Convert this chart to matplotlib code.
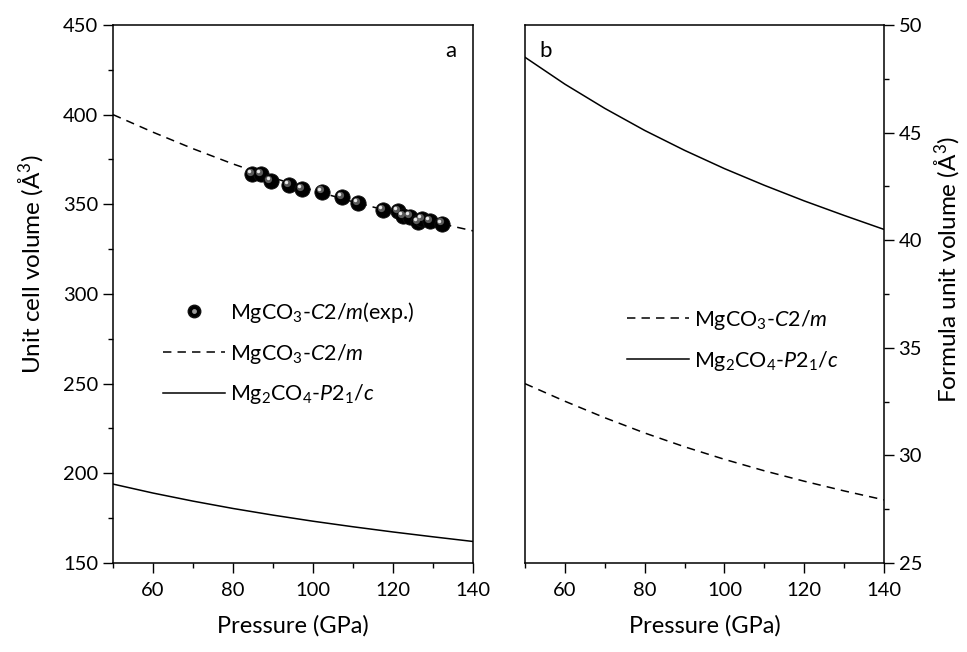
import numpy as np
import matplotlib.pyplot as plt
from matplotlib.transforms import ScaledTranslation
from matplotlib.ticker import MultipleLocator

plt.rcParams['font.family'] = ['Lato', 'DejaVu Sans']
plt.rcParams['mathtext.fontset'] = 'custom'
plt.rcParams['mathtext.rm'] = 'Lato'
plt.rcParams['mathtext.it'] = 'Lato:italic'
plt.rcParams['font.size'] = 14

# Calculated equations of state (GPa, unit cell volume in A^3)
pressure = [50, 60, 70, 80, 90, 100, 110, 120, 130, 140]
v_mgco3 = [400, 390.2, 381.0, 372.5, 364.8, 357.8, 351.4, 345.6, 340.2, 335.2]
v_mg2co4 = [194, 189, 184.5, 180.4, 176.7, 173.3, 170.2, 167.3, 164.6, 162.0]

# Experimental MgCO3-C2/m data
p_exp = [84.7, 87.0, 89.4, 94.0, 97.2, 102.2, 107.2, 111.3, 117.6, 121.3,
         122.6, 124.2, 126.3, 127.2, 129.2, 132.2]
v_exp = [366.9, 366.9, 363.0, 360.6, 358.6, 357.1, 354.1, 350.7, 346.6, 346.0,
         343.6, 343.2, 339.9, 341.8, 340.5, 339.2]

# formula units per cell
z_mgco3 = 12
z_mg2co4 = 4

lbl_exp = r'MgCO$_3$-$C2/m$(exp.)'
lbl_mgco3 = r'MgCO$_3$-$C2/m$'
lbl_mg2co4 = r'Mg$_2$CO$_4$-$P2_1/c$'
dash = (5.5, 4)

fig = plt.figure(figsize=(9.67, 6.52), dpi=100)
ax1 = fig.add_axes([0.1169, 0.1365, 0.3723, 0.8252])
ax2 = fig.add_axes([0.5429, 0.1365, 0.3713, 0.8252])

for ax in (ax1, ax2):
    for s in ax.spines.values():
        s.set_linewidth(1.1)
    ax.set_xlim(50, 140)
    ax.xaxis.set_major_locator(MultipleLocator(20))
    ax.xaxis.set_minor_locator(MultipleLocator(10))
    ax.tick_params(which='major', direction='out', length=7, width=1, labelsize=14.5)
    ax.tick_params(which='minor', direction='out', length=3.5, width=1)
    ax.tick_params(axis='x', pad=7)
    ax.set_xlabel('Pressure (GPa)', fontsize=17, labelpad=11)

# panel a
ax1.plot(pressure, v_mgco3, 'k--', lw=1.1, dashes=dash, label=lbl_mgco3)
ax1.plot(pressure, v_mg2co4, 'k-', lw=1.1, label=lbl_mg2co4)

# shaded spheres for experimental points
off1 = ScaledTranslation(-1.6 / 72, 1.6 / 72, fig.dpi_scale_trans)
off2 = ScaledTranslation(-2.2 / 72, 2.2 / 72, fig.dpi_scale_trans)
ax1.plot(p_exp, v_exp, 'o', ms=11, mfc='black', mec='#111111', mew=0.6, zorder=3)
ax1.plot(p_exp, v_exp, 'o', ms=5.2, mfc='#707070', mec='none', alpha=0.8,
         transform=ax1.transData + off1, zorder=4)
ax1.plot(p_exp, v_exp, 'o', ms=2.5, mfc='#e8e8e8', mec='none',
         transform=ax1.transData + off2, zorder=5)

ax1.set_ylim(150, 450)
ax1.yaxis.set_major_locator(MultipleLocator(50))
ax1.yaxis.set_minor_locator(MultipleLocator(25))
ax1.set_ylabel('Unit cell volume ($\\mathregular{\\AA^3}$)', fontsize=17.5)
ax1.yaxis.set_label_coords(-0.19, 0.555)
ax1.text(0.955, 0.97, 'a', transform=ax1.transAxes, ha='right', va='top', fontsize=16)

# legend for panel a, with a sphere handle
h_sph = (plt.Line2D([], [], marker='o', ls='none', ms=9, mfc='black', mec='#111111'),
         plt.Line2D([], [], marker='o', ls='none', ms=3.5, mfc='#9a9a9a', mec='none'))
hd, lb = ax1.get_legend_handles_labels()
ax1.legend([h_sph] + hd, [lbl_exp] + lb, frameon=False, loc='upper left',
           bbox_to_anchor=(0.085, 0.525), fontsize=15.5, handlelength=2.9,
           handletextpad=0.2, labelspacing=0.78)

# panel b
v_b1 = np.array(v_mgco3) / z_mgco3
v_b2 = np.array(v_mg2co4) / z_mg2co4
ax2.plot(pressure, v_b1, 'k--', lw=1.1, dashes=dash, label=lbl_mgco3)
ax2.plot(pressure, v_b2, 'k-', lw=1.1, label=lbl_mg2co4)
ax2.set_ylim(25, 50)
ax2.yaxis.set_major_locator(MultipleLocator(5))
ax2.yaxis.set_minor_locator(MultipleLocator(2.5))
ax2.yaxis.tick_right()
ax2.yaxis.set_label_position('right')
ax2.set_ylabel('Formula unit volume ($\\mathregular{\\AA^3}$)', fontsize=17.5)
ax2.yaxis.set_label_coords(1.135, 0.545)
ax2.text(0.04, 0.97, 'b', transform=ax2.transAxes, ha='left', va='top', fontsize=16)
ax2.legend(frameon=False, loc='upper left', bbox_to_anchor=(0.23, 0.51), fontsize=15.5,
           handlelength=2.9, handletextpad=0.2, labelspacing=0.78)

fig.savefig('out.png', dpi=100)
